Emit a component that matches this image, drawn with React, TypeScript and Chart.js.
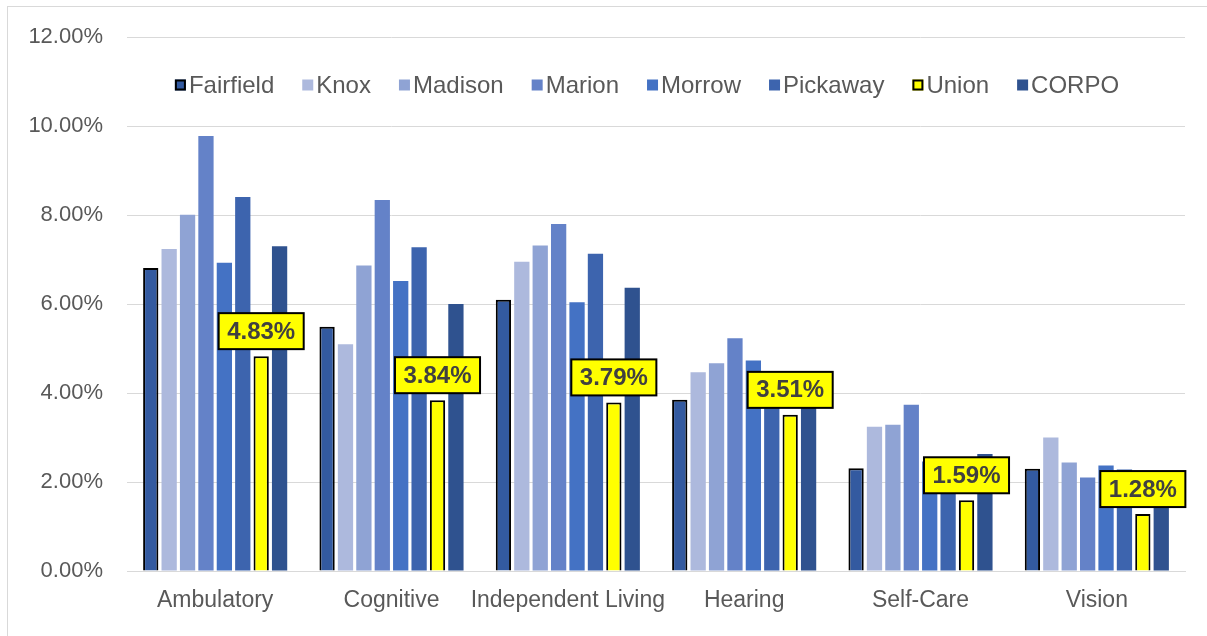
import React, { useEffect, useRef } from "react";
import { Chart, registerables } from "chart.js";

Chart.register(...registerables);

const categories = ["Ambulatory", "Cognitive", "Independent Living", "Hearing", "Self-Care", "Vision"];
const yTicks = [0, 2, 4, 6, 8, 10, 12];

const fairfield = [6.81, 5.49, 6.1, 3.85, 2.31, 2.3];
const knox = [7.24, 5.1, 6.95, 4.47, 3.24, 3.0];
const madison = [8.01, 6.87, 7.32, 4.67, 3.29, 2.44];
const marion = [9.78, 8.34, 7.8, 5.23, 3.74, 2.1];
const morrow = [6.93, 6.52, 6.04, 4.73, 2.46, 2.37];
const pickaway = [8.41, 7.28, 7.13, 4.05, 2.2, 2.28];
const union = [4.83, 3.84, 3.79, 3.51, 1.59, 1.28];
const corpo = [7.3, 6.0, 6.37, 3.9, 2.63, 1.9];

const seriesNames = ["Fairfield", "Knox", "Madison", "Marion", "Morrow", "Pickaway", "Union", "CORPO"];
const seriesData = [fairfield, knox, madison, marion, morrow, pickaway, union, corpo];
const seriesColors = ["#335aa0", "#adb9dd", "#8fa3d4", "#6482c8", "#4472c4", "#3d64ae", "#ffff00", "#2f528f"];
const outlined = [true, false, false, false, false, false, true, false];
const labelledSeries = "Union";

const FONT = "'Liberation Sans', Arial, sans-serif";
const TEXT = "#595959";

const framePlugin = {
  id: "frame",
  beforeDraw(chart: any) {
    const ctx = chart.ctx;
    ctx.save();
    ctx.fillStyle = "#ffffff";
    ctx.fillRect(0, 0, chart.width, chart.height);
    ctx.strokeStyle = "#d9d9d9";
    ctx.lineWidth = 1;
    ctx.strokeRect(7.5, 6.5, chart.width + 10, chart.height + 10);
    ctx.restore();
  },
};

const legendPlugin = {
  id: "customLegend",
  afterDraw(chart: any) {
    const ctx = chart.ctx;
    ctx.save();
    ctx.font = `24px ${FONT}`;
    const box = 11;
    const gapBoxText = 3;
    const itemGap = 28;
    const items = chart.data.datasets.map((d: any) => ({
      label: d.label,
      color: d.backgroundColor,
      border: d.borderWidth > 0,
      w: box + gapBoxText + ctx.measureText(d.label).width,
    }));
    const total = items.reduce((s: number, it: any) => s + it.w, 0) + itemGap * (items.length - 1);
    let x = 647 - total / 2;
    const y = 85;
    items.forEach((it: any) => {
      ctx.fillStyle = it.color;
      ctx.fillRect(x, y - box / 2, box, box);
      if (it.border) {
        ctx.strokeStyle = "#000";
        ctx.lineWidth = 2;
        ctx.strokeRect(x + 1, y - box / 2 + 1, box - 2, box - 2);
      }
      ctx.fillStyle = TEXT;
      ctx.textBaseline = "middle";
      ctx.textAlign = "left";
      ctx.fillText(it.label, x + box + gapBoxText, y + 1);
      x += it.w + itemGap;
    });
    ctx.restore();
  },
};

const labelPlugin = {
  id: "unionLabels",
  afterDatasetsDraw(chart: any) {
    const ctx = chart.ctx;
    const idx = chart.data.datasets.findIndex((d: any) => d.label === labelledSeries);
    if (idx < 0) return;
    const meta = chart.getDatasetMeta(idx);
    const values = chart.data.datasets[idx].data;
    ctx.save();
    ctx.font = `bold 24px ${FONT}`;
    meta.data.forEach((bar: any, i: number) => {
      const text = Number(values[i]).toFixed(2) + "%";
      const tw = ctx.measureText(text).width;
      const w = tw + 17;
      const h = 36;
      const bottom = bar.y - 7;
      const left = bar.x - w / 2;
      const top = bottom - h;
      ctx.fillStyle = "#ffff00";
      ctx.fillRect(left, top, w, h);
      ctx.strokeStyle = "#000";
      ctx.lineWidth = 2;
      ctx.strokeRect(left, top, w, h);
      ctx.fillStyle = "#404040";
      ctx.textAlign = "center";
      ctx.textBaseline = "middle";
      ctx.fillText(text, bar.x, top + h / 2 + 1);
    });
    ctx.restore();
  },
};

export default function App() {
  const ref = useRef<HTMLCanvasElement | null>(null);

  useEffect(() => {
    document.body.style.margin = "0";
    const canvas = ref.current;
    if (!canvas) return;
    const chart = new Chart(canvas, {
      type: "bar",
      data: {
        labels: categories,
        datasets: seriesNames.map((name, i) => ({
          label: name,
          data: seriesData[i],
          backgroundColor: seriesColors[i],
          borderColor: outlined[i] ? "#000000" : seriesColors[i],
          borderWidth: outlined[i] ? 2 : 0,
          categoryPercentage: 0.835,
          barPercentage: 0.83,
        })),
      },
      options: {
        responsive: false,
        animation: false,
        layout: { padding: { left: 0, top: 35, right: 22, bottom: 0 } },
        plugins: {
          legend: { display: false },
          tooltip: { enabled: false },
        },
        scales: {
          x: {
            grid: { display: false, drawTicks: false },
            border: { display: true, color: "#d9d9d9", width: 1 },
            ticks: {
              color: TEXT,
              font: { family: FONT, size: 23 },
              padding: 16,
              maxRotation: 0,
              autoSkip: false,
            },
            afterFit(scale: any) {
              scale.height = 65;
            },
          },
          y: {
            min: 0,
            max: 12,
            afterBuildTicks(scale: any) {
              scale.ticks = yTicks.map((v) => ({ value: v }));
            },
            grid: { color: "#d9d9d9", lineWidth: 1, drawTicks: false },
            border: { display: false },
            ticks: {
              color: TEXT,
              font: { family: FONT, size: 22 },
              padding: 24,
              callback: (v: any) => Number(v).toFixed(2) + "%",
            },
            afterFit(scale: any) {
              scale.width = 127;
            },
          },
        },
      },
      plugins: [framePlugin, legendPlugin, labelPlugin],
    });
    return () => chart.destroy();
  }, []);

  return (
    <div style={{ width: 1207, height: 636, position: "relative" }}>
      <canvas ref={ref} width={1207} height={636} style={{ display: "block" }} />
    </div>
  );
}
